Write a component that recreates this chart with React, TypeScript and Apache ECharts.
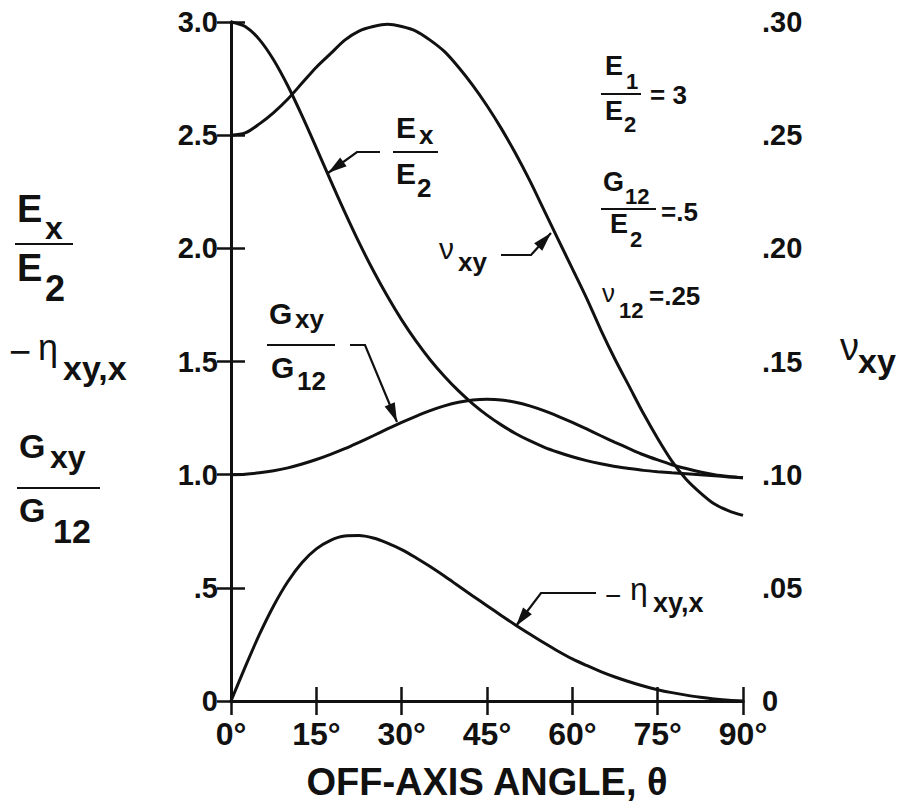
import React, { useEffect, useRef } from "react";
import * as echarts from "echarts";

// Off-axis angle (degrees)
const theta = [
  0, 2.5, 5, 7.5, 10, 12.5, 15, 17.5, 20, 22.5, 25, 27.5, 30, 32.5, 35, 37.5, 40, 42.5, 45,
  47.5, 50, 52.5, 55, 57.5, 60, 62.5, 65, 67.5, 70, 72.5, 75, 77.5, 80, 82.5, 85, 87.5, 90,
];
// E_x / E_2 (left axis)
const exE2 = [
  3.0, 2.98, 2.922, 2.832, 2.717, 2.585, 2.444, 2.3, 2.16, 2.026, 1.902, 1.788, 1.684, 1.591, 1.508, 1.435, 1.37, 1.313, 1.263,
  1.22, 1.182, 1.15, 1.122, 1.099, 1.079, 1.062, 1.048, 1.036, 1.027, 1.019, 1.013, 1.008, 1.004, 1.0, 0.995, 0.99, 0.986,
];
// G_xy / G_12 (left axis)
const gxyG12 = [
  1.0, 1.002, 1.008, 1.017, 1.03, 1.047, 1.067, 1.09, 1.115, 1.143, 1.172, 1.202, 1.231, 1.258, 1.283, 1.304, 1.32, 1.33, 1.333,
  1.33, 1.32, 1.304, 1.283, 1.258, 1.231, 1.202, 1.172, 1.143, 1.115, 1.088, 1.065, 1.044, 1.027, 1.012, 1.0, 0.992, 0.986,
];
// -eta_xy,x (left axis)
const negEta = [
  0, 0.151, 0.294, 0.421, 0.528, 0.612, 0.672, 0.71, 0.729, 0.731, 0.72, 0.698, 0.669, 0.633, 0.594, 0.552, 0.508, 0.464, 0.421,
  0.378, 0.336, 0.296, 0.257, 0.22, 0.186, 0.157, 0.13, 0.106, 0.085, 0.066, 0.05, 0.037, 0.026, 0.017, 0.009, 0.003, 0,
];
// nu_xy (right axis)
const nuXY = [
  0.25, 0.251, 0.255, 0.26, 0.266, 0.273, 0.28, 0.286, 0.292, 0.296, 0.298, 0.299, 0.298, 0.296, 0.292, 0.287, 0.28, 0.272, 0.263,
  0.253, 0.242, 0.23, 0.217, 0.204, 0.191, 0.178, 0.164, 0.151, 0.139, 0.127, 0.116, 0.106, 0.098, 0.092, 0.087, 0.084, 0.082,
];

const xTickLabels = ["0°", "15°", "30°", "45°", "60°", "75°", "90°"];
const leftTickLabels = ["0", ".5", "1.0", "1.5", "2.0", "2.5", "3.0"];
const rightTickLabels = ["0", ".05", ".10", ".15", ".20", ".25", ".30"];

const SANS = '"Liberation Sans", Arial, Helvetica, sans-serif';
const INK = "#111";

function txt(x: number, y: number, text: string, size: number, weight: string = "bold") {
  return {
    type: "text",
    x,
    y,
    z: 100,
    style: {
      text,
      fontSize: size,
      fontWeight: weight,
      fontFamily: SANS,
      fill: INK,
      align: "left",
      verticalAlign: "middle",
    },
  };
}

function hline(x1: number, x2: number, y: number, w = 2) {
  return {
    type: "line",
    z: 100,
    shape: { x1, y1: y, x2, y2: y },
    style: { stroke: INK, lineWidth: w },
  };
}

function leader(points: number[][]) {
  const n = points.length;
  const tip = points[n - 1];
  const from = points[n - 2];
  const dx = tip[0] - from[0];
  const dy = tip[1] - from[1];
  const L = Math.hypot(dx, dy);
  const ux = dx / L;
  const uy = dy / L;
  const len = 19;
  const half = 5.5;
  const bx = tip[0] - ux * len;
  const by = tip[1] - uy * len;
  return [
    {
      type: "polyline",
      z: 100,
      shape: { points },
      style: { stroke: INK, lineWidth: 2.2, fill: null },
    },
    {
      type: "polygon",
      z: 100,
      shape: {
        points: [
          tip,
          [bx - uy * half, by + ux * half],
          [bx + uy * half, by - ux * half],
        ],
      },
      style: { fill: INK },
    },
  ];
}

export default function App() {
  const ref = useRef<HTMLDivElement>(null);

  useEffect(() => {
    if (!ref.current) return;
    const chart = echarts.init(ref.current, null, { renderer: "svg" });

    const lineSeries = (name: string, values: number[], yAxisIndex = 0) => ({
      name,
      type: "line",
      yAxisIndex,
      data: theta.map((t, i) => [t, values[i]]),
      smooth: 0.3,
      showSymbol: false,
      clip: false,
      lineStyle: { color: INK, width: 3 },
      itemStyle: { color: INK },
    });

    const axisLine = { show: true, lineStyle: { color: INK, width: 3 } };
    const axisTick = { show: true, inside: true, length: 14, lineStyle: { color: INK, width: 2.5 } };
    const tickFont = { fontWeight: "bold", fontFamily: SANS, color: INK };

    const graphic: any[] = [
      // left axis titles
      txt(17, 209, "E", 38),
      txt(45, 228, "x", 32),
      hline(15, 73, 244),
      txt(17, 268, "E", 38),
      txt(45, 288, "2", 36),

      txt(9, 352, "−", 38, "normal"),
      txt(38, 347, "η", 36, "normal"),
      txt(63, 368, "xy,x", 34),

      txt(19, 446, "G", 34),
      txt(50, 457, "xy", 32),
      hline(17, 100, 488),
      txt(19, 510, "G", 34),
      txt(53, 531, "12", 34),

      // right axis title
      txt(840, 347, "ν", 38, "normal"),
      txt(858, 361, "xy", 34),

      // parameters block
      txt(605, 66, "E", 27),
      txt(626, 81, "1", 22),
      hline(601, 641, 94),
      txt(605, 111, "E", 27),
      txt(624, 124, "2", 22),
      txt(650, 95, "= 3", 26),

      txt(603, 182, "G", 27),
      txt(625, 196, "12", 22),
      hline(601, 656, 209),
      txt(610, 224, "E", 27),
      txt(630, 239, "2", 22),
      txt(661, 212, "=.5", 26),

      txt(602, 293, "ν", 26, "normal"),
      txt(619, 310, "12", 22),
      txt(649, 296, "=.25", 26),

      // E_x / E_2 curve label
      txt(396, 127, "E", 30),
      txt(419, 135, "x", 26),
      hline(393, 438, 152),
      txt(396, 173, "E", 30),
      txt(417, 188, "2", 26),
      ...leader([[380, 152], [357, 152], [328, 173]]),

      // G_xy / G_12 curve label
      txt(269, 313, "G", 30),
      txt(295, 319, "xy", 26),
      hline(267, 335, 345),
      txt(271, 367, "G", 30),
      txt(297, 381, "12", 26),
      ...leader([[350, 345], [365, 345], [397, 422]]),

      // nu_xy curve label
      txt(439, 248, "ν", 30, "normal"),
      txt(458, 262, "xy", 26),
      ...leader([[501, 255], [531, 255], [551, 233]]),

      // -eta curve label
      txt(605, 595, "−", 28, "normal"),
      txt(630, 589, "η", 32, "normal"),
      txt(653, 603, "xy,x", 27),
      ...leader([[596, 593], [541, 593], [516, 626]]),
    ];

    chart.setOption({
      animation: false,
      backgroundColor: "#ffffff",
      grid: {
        left: 231,
        right: 163,
        top: 22,
        bottom: 108,
        containLabel: false,
        outerBoundsMode: "none",
      },
      xAxis: [
        {
          type: "value",
          position: "bottom",
          min: 0,
          max: 90,
          interval: 15,
          axisLine,
          axisTick,
          splitLine: { show: false },
          axisLabel: {
            margin: 17,
            fontSize: 32,
            ...tickFont,
            formatter: (v: number) => xTickLabels[Math.round(v / 15)] ?? "",
          },
          name: "OFF-AXIS ANGLE, θ",
          nameLocation: "middle",
          nameGap: 62,
          nameTextStyle: {
            fontSize: 38,
            fontWeight: "bold",
            fontFamily: SANS,
            color: INK,
          },
        },
        {
          type: "value",
          position: "top",
          min: 0,
          max: 90,
          interval: 15,
          axisLine,
          axisTick,
          splitLine: { show: false },
          axisLabel: { show: false },
        },
      ],
      yAxis: [
        {
          type: "value",
          position: "left",
          min: 0,
          max: 3,
          interval: 0.5,
          axisLine,
          axisTick,
          splitLine: { show: false },
          axisLabel: {
            margin: 13,
            fontSize: 29,
            ...tickFont,
            formatter: (v: number) => leftTickLabels[Math.round(v / 0.5)] ?? "",
          },
        },
        {
          type: "value",
          position: "right",
          min: 0,
          max: 0.3,
          interval: 0.05,
          axisLine,
          axisTick,
          splitLine: { show: false },
          axisLabel: {
            margin: 19,
            fontSize: 29,
            ...tickFont,
            formatter: (v: number) => rightTickLabels[Math.round(v / 0.05)] ?? "",
          },
        },
      ],
      series: [
        lineSeries("Ex/E2", exE2, 0),
        lineSeries("Gxy/G12", gxyG12, 0),
        lineSeries("-eta xy,x", negEta, 0),
        lineSeries("nu xy", nuXY, 1),
      ],
      graphic,
    });

    return () => {
      chart.dispose();
    };
  }, []);

  return (
    <div
      ref={ref}
      style={{ position: "fixed", left: 0, top: 0, width: 906, height: 809, background: "#fff" }}
    />
  );
}
